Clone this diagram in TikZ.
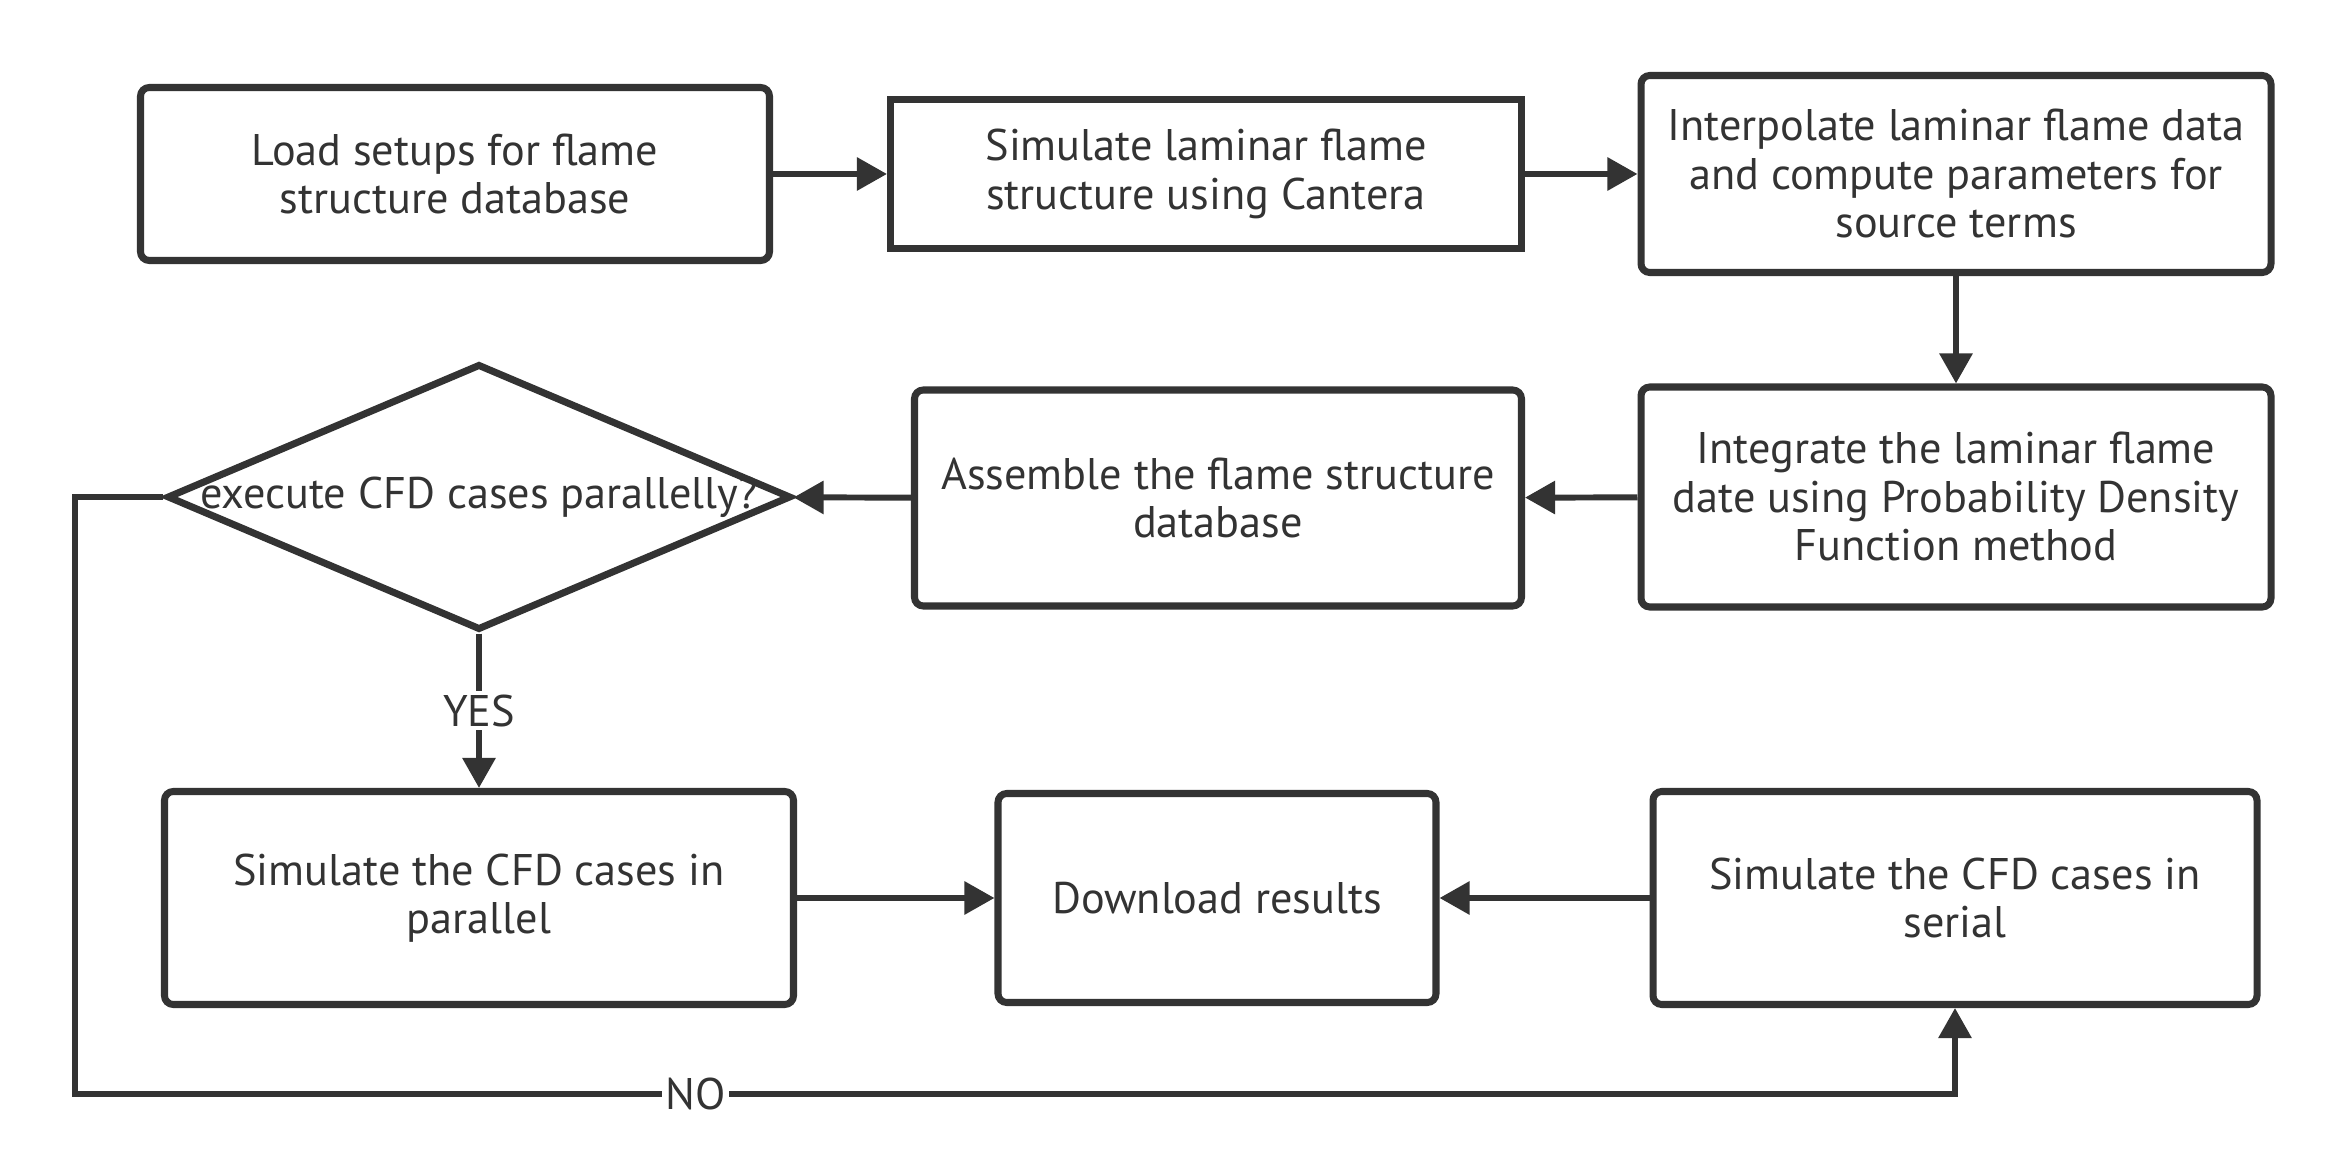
\documentclass[tikz,border=0pt]{standalone}
\usepackage{fontspec}
\setmainfont{PT Sans}
\usetikzlibrary{shapes.geometric, arrows.meta}
\definecolor{ink}{HTML}{333333}

\begin{document}
\begin{tikzpicture}[x=1cm, y=1cm,
  box/.style={draw=ink, line width=2pt, rounded corners=2.5pt, inner sep=0pt, align=center, text=ink, font=\fontsize{12.6}{13.8}\selectfont},
  sharpbox/.style={box, rounded corners=0pt},
  flow/.style={draw=ink, line width=1.7pt, -{Triangle[length=3mm, width=3.2mm]}},
  tag/.style={fill=white, text=ink, inner sep=1pt, font=\fontsize{12.6}{13.8}\selectfont}]
\useasboundingbox (0,0) rectangle (23.46,-11.70);

\node[box, minimum width=6.29cm, minimum height=1.73cm] (load) at (4.55,-1.74) {Load setups for flame\\structure database};
\node[sharpbox, minimum width=6.31cm, minimum height=1.49cm] (cantera) at (12.06,-1.74) {Simulate laminar flame\\structure using Cantera};
\node[box, minimum width=6.30cm, minimum height=1.97cm] (interp) at (19.56,-1.74) {Interpolate laminar flame data\\and compute parameters for\\source terms};
\node[box, minimum width=6.30cm, minimum height=2.20cm] (pdf) at (19.56,-4.97) {Integrate the laminar flame\\date using Probability Density\\Function method};
\node[box, minimum width=6.07cm, minimum height=2.16cm] (assemble) at (12.18,-4.98) {Assemble the flame structure\\database};
\node[box, diamond, aspect=2.34, rounded corners=0pt, minimum width=6.24cm, minimum height=2.66cm,
  label={[tag, fill=none, inner sep=0pt]center:execute CFD cases parallelly?}] (choice) at (4.79,-4.97) {};
\node[box, minimum width=6.29cm, minimum height=2.13cm] (parallel) at (4.79,-8.98) {Simulate the CFD cases in\\parallel};
\node[box, minimum width=4.38cm, minimum height=2.09cm] (download) at (12.17,-8.98) {Download results};
\node[box, minimum width=6.04cm, minimum height=2.13cm] (serial) at (19.55,-8.98) {Simulate the CFD cases in\\serial};

\draw[flow] (load) -- (cantera);
\draw[flow] (cantera) -- (interp);
\draw[flow] (interp) -- (pdf);
\draw[flow] (pdf) -- (assemble);
\draw[flow] (assemble) -- (choice);
\draw[flow] (choice) -- node[tag] {YES} (parallel);
\draw[flow] (parallel) -- (download);
\draw[flow] (serial) -- (download);
\draw[flow] (choice.west) -- (0.75,-4.97) -- (0.75,-10.94) -- node[tag, pos=0.33] {NO} (19.55,-10.94) -- (serial.south);
\end{tikzpicture}
\end{document}
